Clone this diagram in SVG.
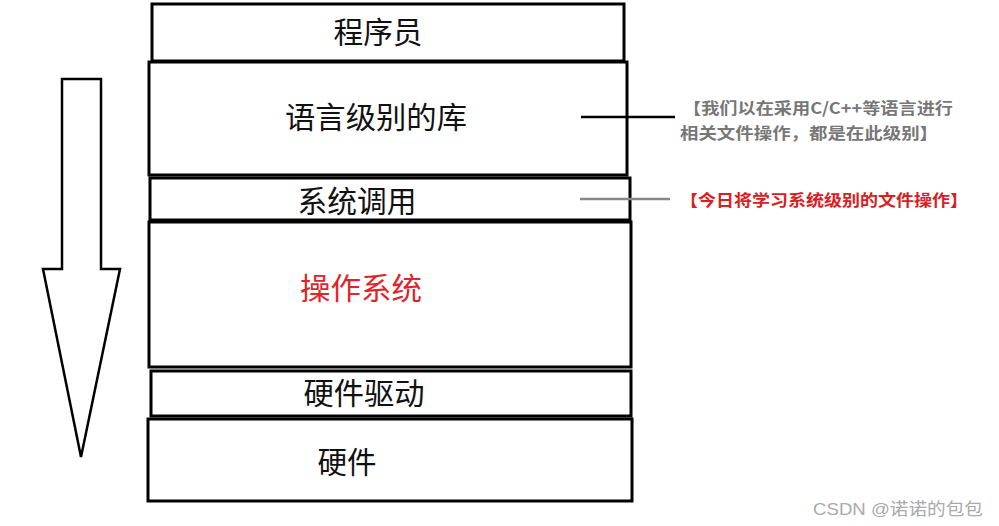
<svg xmlns="http://www.w3.org/2000/svg" width="999" height="526" viewBox="0 0 999 526">
<style>
.box{fill:#fff;stroke:#000;stroke-width:3}
.lbl{font-family:"Noto Sans CJK SC","Noto Sans",sans-serif;font-size:30px;fill:#111;text-anchor:middle;dominant-baseline:central}
.note{font-family:"Noto Sans CJK SC","Noto Sans",sans-serif;font-size:16px;font-weight:bold;dominant-baseline:central}
</style>
<rect width="999" height="526" fill="#fff"/>
<g id="arrow">
<polygon points="62,79 101,79 101,269 120,269 81,457 43,269 62,269" fill="#fff" stroke="#000" stroke-width="2.5" stroke-linejoin="miter"/>
</g>
<g id="programmer"><rect class="box" x="152" y="4" width="472" height="57"/><text class="lbl" x="378" y="30" textLength="89" lengthAdjust="spacingAndGlyphs">程序员</text></g>
<g id="lang-lib"><rect class="box" x="149" y="62" width="478" height="113"/><text class="lbl" x="376" y="115" textLength="182" lengthAdjust="spacingAndGlyphs">语言级别的库</text></g>
<g id="syscall"><rect class="box" x="150" y="178" width="480" height="42"/><text class="lbl" x="357" y="199" textLength="119" lengthAdjust="spacingAndGlyphs">系统调用</text></g>
<g id="os"><rect class="box" x="149" y="222" width="482" height="145"/><text class="lbl" x="361" y="286" style="fill:#e0242c" textLength="122" lengthAdjust="spacingAndGlyphs">操作系统</text></g>
<g id="driver"><rect class="box" x="151" y="371" width="480" height="45"/><text class="lbl" x="364" y="391" textLength="121" lengthAdjust="spacingAndGlyphs">硬件驱动</text></g>
<g id="hardware"><rect class="box" x="148" y="419" width="484" height="82"/><text class="lbl" x="347" y="460" textLength="59" lengthAdjust="spacingAndGlyphs">硬件</text></g>
<g id="connectors">
<line x1="581" y1="117" x2="675" y2="117" stroke="#000" stroke-width="2.5"/>
<line x1="580" y1="199" x2="670" y2="199" stroke="#888" stroke-width="2.5"/>
</g>
<g id="note-lib">
<text class="note" x="683" y="107" fill="#777" textLength="270" lengthAdjust="spacingAndGlyphs">【我们以在采用C/C++等语言进行</text>
<text class="note" x="680" y="132" fill="#777" textLength="258" lengthAdjust="spacingAndGlyphs">相关文件操作，都是在此级别】</text>
</g>
<g id="note-syscall">
<text class="note" x="680" y="199" fill="#d9201f" textLength="288" lengthAdjust="spacingAndGlyphs">【今日将学习系统级别的文件操作】</text>
</g>
<text x="813" y="509" font-family="'Liberation Sans','Noto Sans CJK SC',sans-serif" font-size="17" fill="#aaa" dominant-baseline="central" textLength="170" lengthAdjust="spacingAndGlyphs">CSDN @诺诺的包包</text>
</svg>
